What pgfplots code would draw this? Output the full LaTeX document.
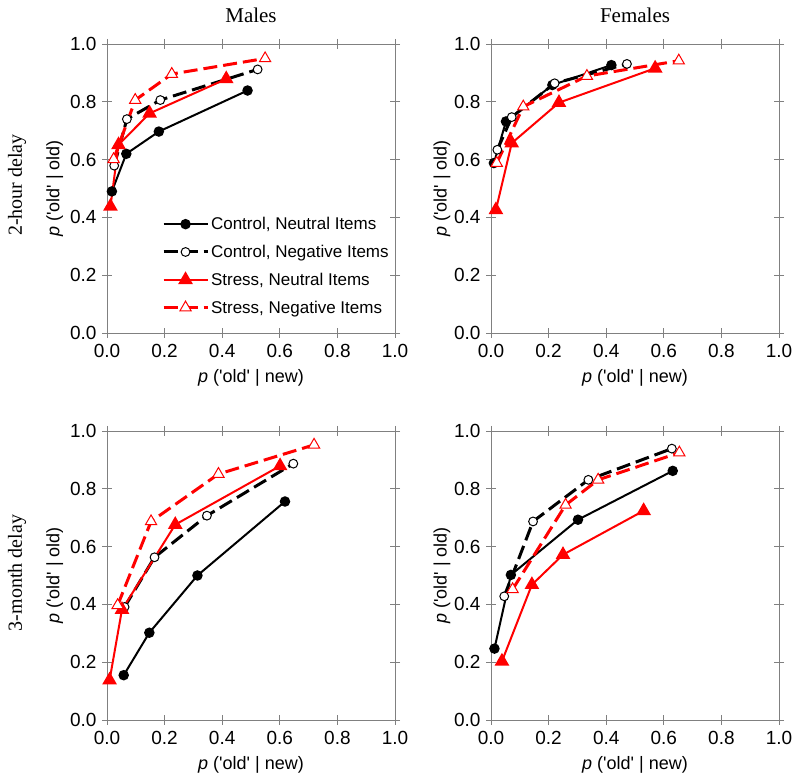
\documentclass[border=0pt]{standalone}
\usepackage{fontspec}
\setmainfont{Liberation Sans}
\newfontfamily\arial{Liberation Sans}
\newfontfamily\timesf{Liberation Serif}
\usepackage{pgfplots}
\pgfplotsset{compat=1.18}
\pgfplotsset{
  roc/.style={
    scale only axis, width=288pt, height=289pt, anchor=south west,
    xmin=0, xmax=1, ymin=0, ymax=1, clip=false,
    xtick={0,0.2,0.4,0.6,0.8,1}, ytick={0,0.2,0.4,0.6,0.8,1},
    axis line style={draw=gray, line width=0.8pt},
    tick style={draw=gray, line width=0.8pt},
    tick align=center, major tick length=10pt,
    ticklabel style={font=\arial\fontsize{19}{21}\selectfont},
    xticklabel style={yshift=-3pt},
    yticklabel style={xshift=-2pt},
    /pgf/number format/.cd, fixed, fixed zerofill, precision=1, assume math mode=true, /pgfplots/.cd,
    xlabel={\textit{p} ('old' | new)},
    ylabel={\textit{p} ('old' | old)},
    label style={font=\arial\fontsize{18}{20}\selectfont},
    xlabel style={at={(axis description cs:0.5,-0.156)}, anchor=center},
    ylabel style={at={(axis description cs:-0.181,0.5)}, anchor=center},
  },
  cn/.style={black, line width=2pt, mark=*, mark size=4.2pt, mark options={solid, fill=black}},
  cg/.style={black, line width=3pt, dash pattern=on 14pt off 6pt, mark=*, mark size=4.4pt, mark options={solid, line width=1pt, fill=white, draw=black}},
  sn/.style={red, line width=2pt, mark=triangle*, mark size=6.5pt, mark options={solid, fill=red, draw=red}},
  sg/.style={red, line width=3pt, dash pattern=on 14pt off 6pt, mark=triangle*, mark size=6.5pt, mark options={solid, line width=1pt, fill=white, draw=red}},
}
\begin{document}
\begin{tikzpicture}[x=1pt,y=1pt]
\useasboundingbox (0,0) rectangle (800,783);
% Males, 2-hour
\begin{axis}[roc, at={(107pt,450pt)},
  title={\timesf Males}, title style={font=\fontsize{21}{24}\selectfont, at={(0.5,1)}, anchor=center, yshift=23pt},
  legend cell align=left,
  legend style={draw=none, fill=none, at={(0.18,0.415)}, anchor=north west, font=\arial\fontsize{17}{19}\selectfont, row sep=10pt},
  legend image code/.code={\draw[mark repeat=2,mark phase=2] plot coordinates {(0pt,0pt) (22pt,0pt) (44pt,0pt)};}]
\addplot[cn] coordinates {(0.017,0.490) (0.067,0.620) (0.180,0.697) (0.488,0.839)};
\addplot[cg] coordinates {(0.025,0.579) (0.069,0.740) (0.185,0.806) (0.523,0.912)};
\addplot[sn] coordinates {(0.012,0.438) (0.040,0.651) (0.148,0.760) (0.414,0.879)};
\addplot[sg] coordinates {(0.023,0.601) (0.098,0.806) (0.225,0.896) (0.549,0.950)};
\legend{{Control, Neutral Items}, {Control, Negative Items}, {Stress, Neutral Items}, {Stress, Negative Items}}
\end{axis}
% Females, 2-hour
\begin{axis}[roc, at={(491pt,450pt)},
  title={\timesf Females}, title style={font=\fontsize{21}{24}\selectfont, at={(0.5,1)}, anchor=center, yshift=23pt},
  ylabel style={at={(axis description cs:-0.17,0.5)}}]
\addplot[cn] coordinates {(0.010,0.588) (0.052,0.732) (0.213,0.858) (0.418,0.927)};
\addplot[cg] coordinates {(0.022,0.634) (0.072,0.747) (0.221,0.864) (0.472,0.931)};
\addplot[sn] coordinates {(0.017,0.426) (0.072,0.657) (0.236,0.797) (0.570,0.916)};
\addplot[sg] coordinates {(0.020,0.588) (0.112,0.783) (0.333,0.889) (0.652,0.942)};
\end{axis}
% Males, 3-month
\begin{axis}[roc, at={(107pt,63pt)}]
\addplot[cn] coordinates {(0.058,0.155) (0.147,0.302) (0.314,0.500) (0.618,0.756)};
\addplot[cg] coordinates {(0.061,0.391) (0.165,0.563) (0.347,0.707) (0.647,0.887)};
\addplot[sn] coordinates {(0.009,0.138) (0.052,0.382) (0.237,0.676) (0.601,0.879)};
\addplot[sg] coordinates {(0.037,0.397) (0.153,0.687) (0.387,0.851) (0.719,0.952)};
\end{axis}
% Females, 3-month
\begin{axis}[roc, at={(491pt,63pt)},
  ylabel style={at={(axis description cs:-0.17,0.5)}}]
\addplot[cn] coordinates {(0.012,0.247) (0.069,0.502) (0.302,0.693) (0.631,0.862)};
\addplot[cg] coordinates {(0.046,0.428) (0.146,0.687) (0.338,0.831) (0.628,0.939)};
\addplot[sn] coordinates {(0.038,0.203) (0.142,0.468) (0.250,0.572) (0.530,0.724)};
\addplot[sg] coordinates {(0.075,0.452) (0.259,0.744) (0.372,0.831) (0.654,0.925)};
\end{axis}
\node[rotate=90, font=\timesf\fontsize{20}{22}\selectfont] at (17,598) {2-hour delay};
\node[rotate=90, font=\timesf\fontsize{20}{22}\selectfont] at (17,210) {3-month delay};
\end{tikzpicture}
\end{document}
